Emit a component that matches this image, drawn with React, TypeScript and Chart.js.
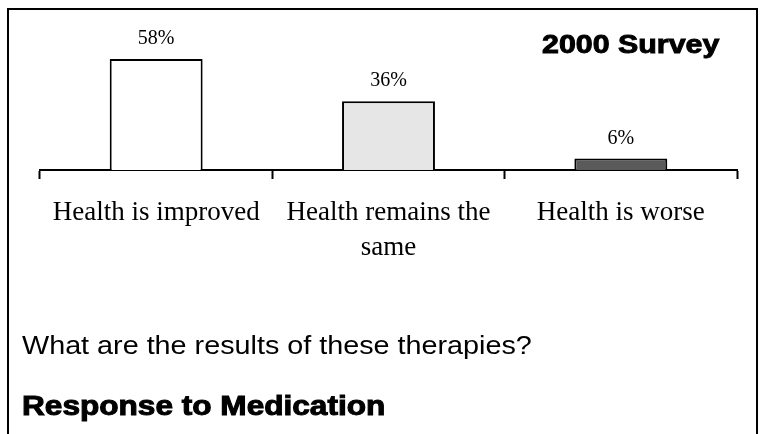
import React, { useEffect, useRef } from 'react';
import { Chart, registerables } from 'chart.js';

Chart.register(...registerables);

const categories: (string | string[])[] = ['Health is improved', ['Health remains the', 'same'], 'Health is worse'];
const values: number[] = [58, 36, 6];
const barColors: string[] = ['#ffffff', '#e6e6e6', '#5a5a5a'];
const surveyLabel = '2000 Survey';
const questionText = 'What are the results of these therapies?';
const titleText = 'Response to Medication';

export default function App() {
  const ref = useRef<HTMLCanvasElement>(null);

  useEffect(() => {
    if (!ref.current) return;

    const textPlugin = {
      id: 'slideTexts',
      afterDatasetsDraw(chart: any) {
        const ctx = chart.ctx as CanvasRenderingContext2D;
        const meta = chart.getDatasetMeta(0);
        ctx.save();
        ctx.fillStyle = '#000';
        ctx.font = '20px "Liberation Serif"';
        ctx.textAlign = 'center';
        ctx.textBaseline = 'alphabetic';
        meta.data.forEach((bar: any, i: number) => {
          ctx.fillText(`${values[i]}%`, bar.x, bar.y - 15);
        });

        const drawScaled = (text: string, font: string, x: number, y: number, sx: number, weight: number) => {
          ctx.save();
          ctx.font = font;
          ctx.textAlign = 'left';
          ctx.textBaseline = 'alphabetic';
          ctx.translate(x, y);
          ctx.scale(sx, 1);
          ctx.fillStyle = '#000';
          ctx.fillText(text, 0, 0);
          if (weight > 0) {
            ctx.strokeStyle = '#000';
            ctx.lineWidth = weight;
            ctx.lineJoin = 'miter';
            ctx.strokeText(text, 0, 0);
          }
          ctx.restore();
        };
        drawScaled(surveyLabel, 'bold 25px "Liberation Sans"', 542, 53, 1.215, 0.9);
        drawScaled(questionText, '25px "Liberation Sans"', 22, 354, 1.15, 0);
        drawScaled(titleText, 'bold 27px "Liberation Sans"', 22, 415, 1.17, 1.0);
        ctx.restore();
      },
    };

    const chart = new Chart(ref.current, {
      type: 'bar',
      data: {
        labels: categories as any,
        datasets: [
          {
            data: values,
            backgroundColor: barColors,
            borderColor: '#000',
            borderWidth: 2,
            barPercentage: 0.4,
            categoryPercentage: 1,
          },
        ],
      },
      options: {
        responsive: false,
        animation: false,
        devicePixelRatio: 1,
        layout: { padding: { top: 17, left: 40, right: 27, bottom: 0 } },
        plugins: {
          legend: { display: false },
          tooltip: { enabled: false },
          title: { display: false },
        },
        scales: {
          y: { display: false, min: 0, max: 80 },
          x: {
            offset: true,
            grid: {
              display: true,
              offset: true,
              drawOnChartArea: false,
              drawTicks: true,
              tickLength: 9,
              tickWidth: 2,
              tickColor: '#000',
              color: '#000',
            },
            border: { display: true, color: '#000', width: 2 },
            ticks: {
              color: '#000',
              font: { family: 'Liberation Serif', size: 27, lineHeight: 1.28 },
              padding: 17,
              maxRotation: 0,
              minRotation: 0,
              autoSkip: false,
            },
            afterFit: (s: any) => {
              s.height = 264;
            },
          },
        },
      },
      plugins: [textPlugin],
    });

    return () => chart.destroy();
  }, []);

  return (
    <div
      style={{
        position: 'fixed',
        left: 0,
        top: 0,
        width: 764,
        height: 434,
        overflow: 'hidden',
        background: '#fff',
      }}
    >
      <div
        style={{
          position: 'absolute',
          left: 7,
          top: 8,
          width: 751,
          height: 520,
          border: '2px solid #000',
          boxSizing: 'border-box',
        }}
      />
      <canvas
        ref={ref}
        width={764}
        height={434}
        style={{ position: 'absolute', left: 0, top: 0, width: 764, height: 434 }}
      />
    </div>
  );
}
